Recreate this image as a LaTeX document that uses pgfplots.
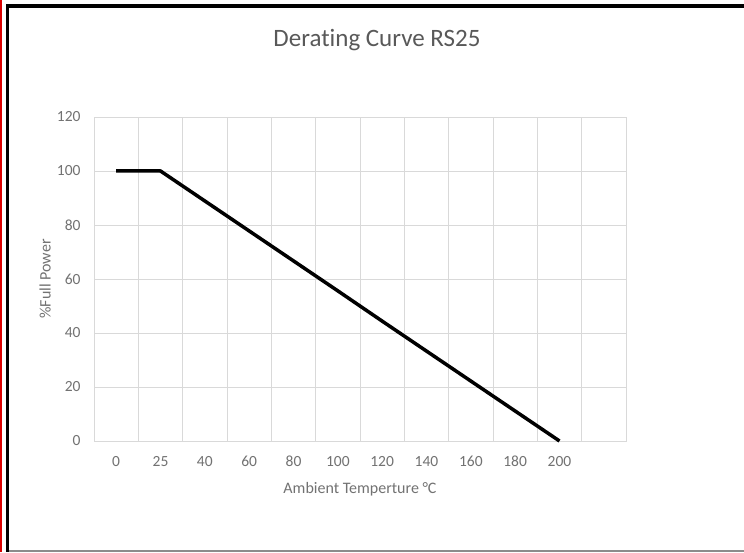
\documentclass[border=0pt]{standalone}
\usepackage{pgfplots}
\pgfplotsset{compat=1.18}
\usepackage{fontspec}
\setmainfont{Carlito}[Ligatures=NoCommon]
\definecolor{txtgray}{HTML}{595959}
\definecolor{gridgray}{HTML}{D9D9D9}
\begin{document}
\begin{tikzpicture}
\useasboundingbox (0pt,0pt) rectangle (744pt,552pt);
\fill[white] (0pt,0pt) rectangle (744pt,552pt);
% frame
\fill[red!85!black] (0pt,0pt) rectangle (1.7pt,552pt);
\fill[black] (5.5pt,0pt) rectangle (9pt,548pt);
\fill[black] (5.5pt,543.5pt) rectangle (744pt,548pt);
\fill[black!45] (9pt,0pt) rectangle (744pt,2.5pt);
\begin{axis}[
  at={(94pt,111pt)}, anchor=south west,
  scale only axis, width=532pt, height=324pt,
  xmin=-0.5, xmax=11.5, ymin=0, ymax=120,
  xtick={0,1,2,3,4,5,6,7,8,9,10},
  xticklabels={0,25,40,60,80,100,120,140,160,180,200},
  minor xtick={0.5,1.5,2.5,3.5,4.5,5.5,6.5,7.5,8.5,9.5,10.5},
  ytick={0,20,40,60,80,100,120},
  xminorgrids, ymajorgrids,
  grid style={draw=gridgray, line width=0.9pt},
  minor grid style={draw=gridgray, line width=0.9pt},
  axis line style={draw=gridgray, line width=0.9pt},
  major tick length=0pt, minor tick length=0pt,
  /pgf/number format/assume math mode=true,
  tick label style={font=\fontsize{15.5}{18}\selectfont, text=txtgray!85},
  yticklabel style={xshift=-10pt},
  xticklabel style={text height=11pt, text depth=0pt, yshift=-11pt},
  xlabel={Ambient Temperture °C},
  ylabel={\%Full Power},
  label style={font=\fontsize{16}{19}\selectfont, text=txtgray!85},
  xlabel style={at={(axis description cs:0.5,-0.148)}, anchor=center},
  ylabel style={at={(axis description cs:-0.092,0.5)}, anchor=center, rotate=0},
  clip=false,
]
\addplot[black, line width=3.5pt, line join=round, mark=none] coordinates {
 (0,100) (1,100) (2,88.9) (3,77.8) (4,66.7) (5,55.6) (6,44.4) (7,33.3) (8,22.2) (9,11.1) (10,0)
};
\end{axis}
\node[text=txtgray, font=\fontsize{25}{30}\selectfont] at (377pt,512pt) {Derating Curve RS25};
\end{tikzpicture}
\end{document}
